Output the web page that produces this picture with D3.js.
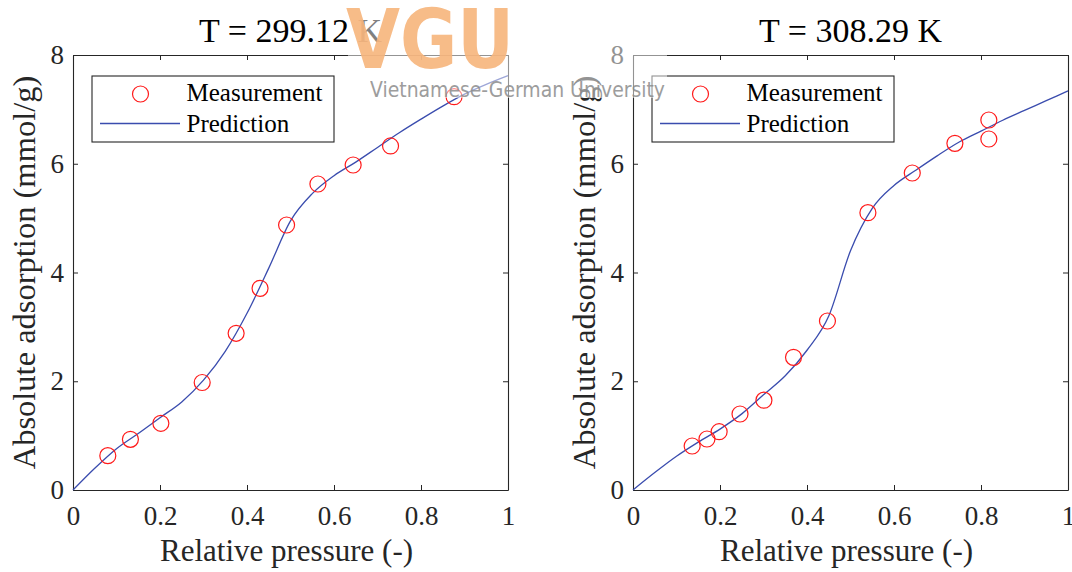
<!DOCTYPE html>
<html>
<head>
<meta charset="utf-8">
<script src="https://cdn.jsdelivr.net/npm/d3@7"></script>
<style>
  html, body { margin: 0; padding: 0; background: #ffffff; }
  svg { display: block; }
</style>
</head>
<body>
<svg id="chart" width="1072" height="572"></svg>
<script>
// ---------------- DATA ----------------
const xTicks = [0, 0.2, 0.4, 0.6, 0.8, 1];
const yTicks = [0, 2, 4, 6, 8];
const xLabel = "Relative pressure (-)";
const yLabel = "Absolute adsorption (mmol/g)";
const legendLabels = ["Measurement", "Prediction"];

const title1 = "T = 299.12 K";
const meas1X = [0.080, 0.132, 0.202, 0.297, 0.375, 0.430, 0.491, 0.563, 0.644, 0.730, 0.876];
const meas1Y = [0.631, 0.932, 1.227, 1.977, 2.882, 3.709, 4.874, 5.628, 5.977, 6.327, 7.233];
const pred1X = [0, 0.05, 0.10, 0.15, 0.20, 0.25, 0.30, 0.35, 0.40, 0.45, 0.50, 0.55, 0.60, 0.65, 0.70, 0.75, 0.80, 0.85, 0.90, 0.95, 1.00];
const pred1Y = [0, 0.40, 0.76, 1.04, 1.33, 1.62, 2.02, 2.55, 3.25, 4.08, 4.95, 5.45, 5.78, 6.03, 6.30, 6.57, 6.82, 7.06, 7.28, 7.46, 7.62];

const title2 = "T = 308.29 K";
const meas2X = [0.136, 0.170, 0.198, 0.246, 0.301, 0.369, 0.447, 0.540, 0.642, 0.740, 0.818, 0.818];
const meas2Y = [0.809, 0.938, 1.072, 1.398, 1.652, 2.440, 3.108, 5.100, 5.830, 6.376, 6.805, 6.455];
const pred2X = [0, 0.05, 0.10, 0.15, 0.20, 0.25, 0.30, 0.35, 0.40, 0.45, 0.50, 0.55, 0.60, 0.65, 0.70, 0.75, 0.80, 0.85, 0.90, 0.95, 1.00];
const pred2Y = [0, 0.32, 0.62, 0.88, 1.12, 1.40, 1.75, 2.10, 2.57, 3.20, 4.40, 5.18, 5.60, 5.88, 6.15, 6.40, 6.60, 6.80, 6.98, 7.16, 7.34];

const watermarkLogo = "VGU";
const watermarkText = "Vietnamese-German University";

// ---------------- STYLE ----------------
const AXIS = "#262626";
const RED = "#ff1a1a";
const BLUE = "#3a4cae";
const SERIF = "'Liberation Serif', 'Times New Roman', serif";

const svg = d3.select("#chart");
svg.append("rect").attr("width", 1072).attr("height", 572).attr("fill", "#fff");

function drawPanel(left, title, mX, mY, pX, pY) {
  const W = 435, top = 55, bottom = 490;
  const x = d3.scaleLinear().domain([0, 1]).range([left, left + W]);
  const y = d3.scaleLinear().domain([0, 8]).range([bottom, top]);
  const g = svg.append("g");

  const fmt = d => String(d);
  const gb = g.append("g").attr("transform", `translate(0,${bottom})`)
    .call(d3.axisBottom(x).tickValues(xTicks).tickSize(-5).tickSizeOuter(0).tickFormat(fmt));
  gb.selectAll("text").attr("y", 35).attr("dy", null);
  g.append("g").attr("transform", `translate(0,${top})`)
    .call(d3.axisTop(x).tickValues(xTicks).tickSize(-5).tickSizeOuter(0).tickFormat(""));
  const gl = g.append("g").attr("transform", `translate(${left},0)`)
    .call(d3.axisLeft(y).tickValues(yTicks).tickSize(-5).tickSizeOuter(0).tickFormat(fmt));
  gl.selectAll("text").attr("x", -9);
  g.append("g").attr("transform", `translate(${left + W},0)`)
    .call(d3.axisRight(y).tickValues(yTicks).tickSize(-5).tickSizeOuter(0).tickFormat(""));

  g.selectAll(".domain").attr("stroke", AXIS).attr("stroke-width", 1.1);
  g.selectAll(".tick line").attr("stroke", AXIS).attr("stroke-width", 1);
  g.selectAll(".tick text").attr("fill", AXIS).attr("font-family", SERIF).attr("font-size", 27);

  const line = d3.line().x(d => x(d[0])).y(d => y(d[1])).curve(d3.curveMonotoneX);
  g.append("path").datum(pX.map((v, i) => [v, pY[i]]))
    .attr("d", line).attr("fill", "none").attr("stroke", BLUE).attr("stroke-width", 1.3);

  g.selectAll("circle.m").data(mX.map((v, i) => [v, mY[i]])).join("circle")
    .attr("class", "m")
    .attr("cx", d => x(d[0])).attr("cy", d => y(d[1])).attr("r", 8)
    .attr("fill", "none").attr("stroke", RED).attr("stroke-width", 1.2);

  g.append("text").attr("x", left + W / 2).attr("y", 42).attr("text-anchor", "middle")
    .attr("font-family", SERIF).attr("font-size", 34).attr("fill", "#000").text(title);
  g.append("text").attr("x", left + W / 2 - 4).attr("y", 561).attr("text-anchor", "middle")
    .attr("font-family", SERIF).attr("font-size", 31).attr("fill", AXIS).text(xLabel);
  g.append("text").attr("transform", `translate(${left - 38},${(top + bottom) / 2}) rotate(-90)`)
    .attr("text-anchor", "middle")
    .attr("font-family", SERIF).attr("font-size", 32.5).attr("fill", AXIS).text(yLabel);

  const lx = left + 19, ly = 76, lw = 242, lh = 66;
  const lg = g.append("g");
  lg.append("rect").attr("x", lx).attr("y", ly).attr("width", lw).attr("height", lh)
    .attr("fill", "#fff").attr("stroke", AXIS).attr("stroke-width", 1.1);
  lg.append("circle").attr("cx", lx + 48.5).attr("cy", ly + 18).attr("r", 8)
    .attr("fill", "none").attr("stroke", RED).attr("stroke-width", 1.2);
  lg.append("line").attr("x1", lx + 8).attr("x2", lx + 88).attr("y1", ly + 47.5).attr("y2", ly + 47.5)
    .attr("stroke", BLUE).attr("stroke-width", 1.3);
  lg.append("text").attr("x", lx + 94.5).attr("y", ly + 25).attr("font-family", SERIF)
    .attr("font-size", 25).attr("fill", "#000").text(legendLabels[0]);
  lg.append("text").attr("x", lx + 94.5).attr("y", ly + 56).attr("font-family", SERIF)
    .attr("font-size", 25).attr("fill", "#000").text(legendLabels[1]);
}

drawPanel(73, title1, meas1X, meas1Y, pred1X, pred1Y);
drawPanel(633, title2, meas2X, meas2Y, pred2X, pred2Y);

// ---------------- WATERMARK ----------------
const wm = svg.append("g");
wm.append("rect").attr("x", 348).attr("y", 4).attr("width", 319).attr("height", 94)
  .attr("fill", "#fff").attr("opacity", 0.5);
wm.append("text").attr("x", 346).attr("y", 68)
  .attr("font-family", "'DejaVu Sans', sans-serif").attr("font-weight", "bold")
  .attr("font-size", 82).attr("textLength", 168).attr("lengthAdjust", "spacingAndGlyphs")
  .attr("fill", "#f7b57c").attr("opacity", 0.9).text(watermarkLogo);
wm.append("text").attr("x", 370).attr("y", 97)
  .attr("font-family", "'DejaVu Sans', sans-serif")
  .attr("font-size", 21).attr("textLength", 295).attr("lengthAdjust", "spacingAndGlyphs")
  .attr("fill", "#8c8c8c").attr("opacity", 0.85).text(watermarkText);
</script>
</body>
</html>
